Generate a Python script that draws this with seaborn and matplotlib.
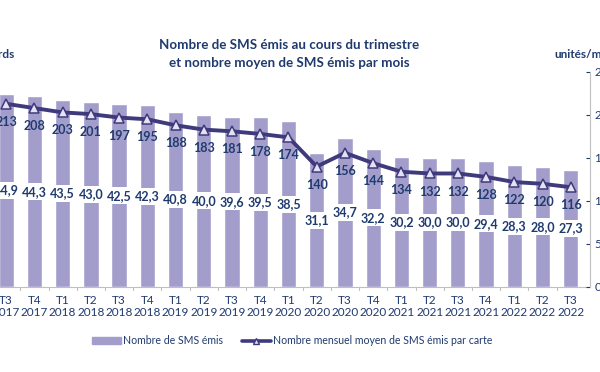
import numpy as np
import pandas as pd
import matplotlib
matplotlib.use("Agg")
import matplotlib.pyplot as plt
import seaborn as sns
from matplotlib.patches import Patch
from matplotlib.lines import Line2D

# --- données ---
trimestres = ["T3", "T4", "T1", "T2", "T3", "T4", "T1", "T2", "T3", "T4", "T1",
              "T2", "T3", "T4", "T1", "T2", "T3", "T4", "T1", "T2", "T3"]
annees = ["2017", "2017", "2018", "2018", "2018", "2018", "2019", "2019", "2019", "2019", "2020",
          "2020", "2020", "2020", "2021", "2021", "2021", "2021", "2022", "2022", "2022"]
sms_milliards = [44.9, 44.3, 43.5, 43.0, 42.5, 42.3, 40.8, 40.0, 39.6, 39.5, 38.5,
                 31.1, 34.7, 32.2, 30.2, 30.0, 30.0, 29.4, 28.3, 28.0, 27.3]
sms_par_carte = [213, 208, 203, 201, 197, 195, 188, 183, 181, 178, 174,
                 140, 156, 144, 134, 132, 132, 128, 122, 120, 116]

labels = [f"{t}\n{a}" for t, a in zip(trimestres, annees)]
df = pd.DataFrame({"periode": labels, "sms": sms_milliards, "moyen": sms_par_carte})
df["pos"] = np.arange(len(df))

bleu = "#1F3A6E"
barre = "#A39DCC"
ligne = "#3E3A7C"

sns.set_style("white")
plt.rcParams["font.family"] = ["Lato", "DejaVu Sans"]

fig = plt.figure(figsize=(6, 3.72), dpi=100)
ax = fig.add_axes([-0.0132, 0.2285, 0.9965, 0.578])

sns.barplot(data=df, x="periode", y="sms", color=barre, width=0.54,
            saturation=1, ax=ax)
ax.set_ylim(0, 50)
ax.set_xlim(-0.5, 20.68)
ax.set_xlabel("")
ax.set_ylabel("")
ax.set_yticks([])
ax.tick_params(axis="x", labelsize=8.5, colors=bleu, length=0, pad=5.5)
for s in ["top", "left", "right"]:
    ax.spines[s].set_visible(False)
ax.spines["bottom"].set_color("#BFBFBF")
for x in np.arange(0.5, 20.5, 1):
    ax.plot([x, x], [0, -0.8], color="#BFBFBF", lw=0.8, clip_on=False)

# étiquettes des barres, fond blanc
for p, v in zip(df["pos"], df["sms"]):
    ax.text(p, v / 2, f"{v:.1f}".replace(".", ","), ha="center", va="center",
            fontsize=9, fontweight="bold", color=bleu,
            bbox=dict(boxstyle="square,pad=0.2", fc="white", ec="none"))

ax2 = ax.twinx()
sns.lineplot(data=df, x="pos", y="moyen", color=ligne, lw=2.8, marker="^",
             markersize=7, markerfacecolor="#E4E2F2", markeredgecolor=ligne,
             markeredgewidth=1.1, ax=ax2)
ax2.set_ylim(0, 250)
ax2.set_yticks(np.arange(0, 251, 50))
ax2.set_ylabel("")
ax2.tick_params(axis="y", labelsize=8.5, colors=bleu, length=3, direction="in",
                pad=3)
for s in ["top", "left", "bottom"]:
    ax2.spines[s].set_visible(False)
ax2.spines["right"].set_color("#BFBFBF")

for p, v in zip(df["pos"], df["moyen"]):
    ax2.annotate(str(v), (p, v), xytext=(0, -13), textcoords="offset points",
                 ha="center", va="center", fontsize=9, fontweight="bold",
                 color=bleu)

fig.text(0.482, 1 - 45 / 372, "Nombre de SMS émis au cours du trimestre",
         ha="center", va="center", fontsize=9.6, fontweight="bold", color=bleu)
fig.text(0.482, 1 - 63 / 372, "et nombre moyen de SMS émis par mois",
         ha="center", va="center", fontsize=9.6, fontweight="bold", color=bleu)
fig.text(15 / 600, 1 - 55 / 372, "milliards", ha="right", va="center",
         fontsize=8.5, fontweight="bold", color=bleu)
fig.text(554 / 600, 1 - 55 / 372, "unités/mois", ha="left", va="center",
         fontsize=8.5, fontweight="bold", color=bleu)

handles = [Patch(color=barre, label="Nombre de SMS émis"),
           Line2D([0], [0], color=ligne, lw=2.6, marker="^", markersize=5,
                  markerfacecolor="#E4E2F2", markeredgecolor=ligne,
                  label="Nombre mensuel moyen de SMS émis par carte")]
leg = fig.legend(handles=handles, loc="center", bbox_to_anchor=(0.487, 1 - 341 / 372),
                 ncol=2, frameon=False, fontsize=7.6, handlelength=2.7,
                 handleheight=0.6, columnspacing=1.8, handletextpad=0.2)
for t in leg.get_texts():
    t.set_color(bleu)

fig.savefig("out.png", dpi=100)
